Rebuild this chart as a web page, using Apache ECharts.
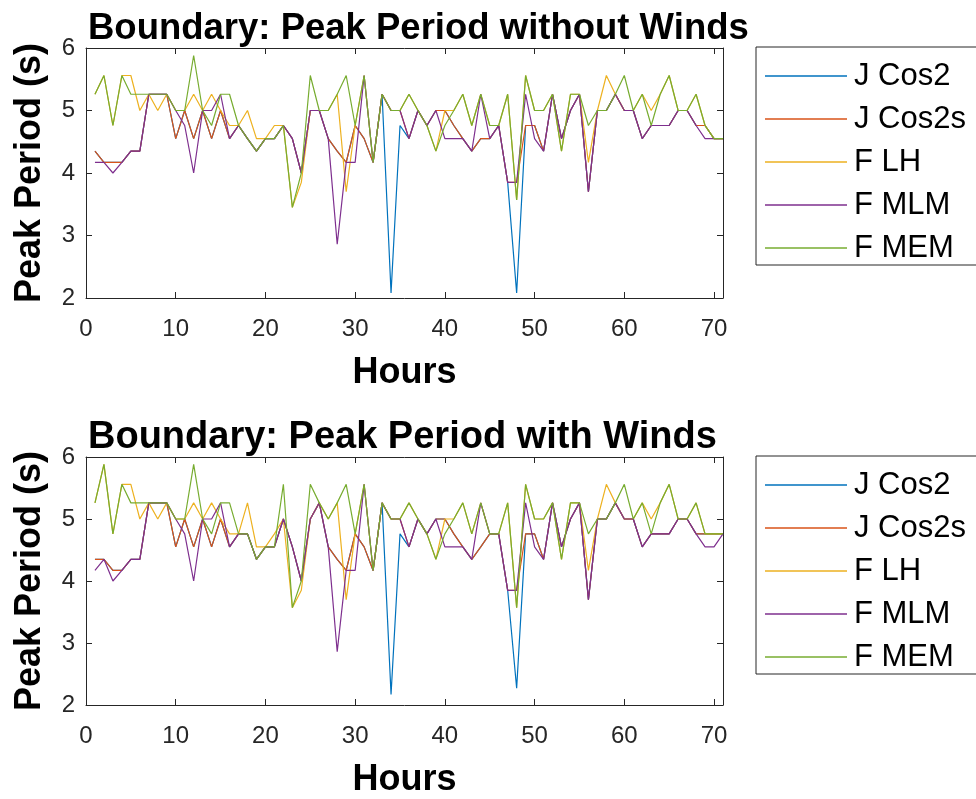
<!DOCTYPE html>
<html><head><meta charset="utf-8">
<script src="https://cdn.jsdelivr.net/npm/echarts@6/dist/echarts.min.js"></script>
<style>html,body{margin:0;padding:0;background:#fff}#c{width:976px;height:799px}</style>
</head><body><div id="c"></div><script>
const hours = [1,2,3,4,5,6,7,8,9,10,11,12,13,14,15,16,17,18,19,20,21,22,23,24,25,26,27,28,29,30,31,32,33,34,35,36,37,38,39,40,41,42,43,44,45,46,47,48,49,50,51,52,53,54,55,56,57,58,59,60,61,62,63,64,65,66,67,68,69,70,71];
const xTicks = [0,10,20,30,40,50,60,70];
const yTicks = [2,3,4,5,6];
const seriesNames = ['J Cos2','J Cos2s','F LH','F MLM','F MEM'];
const titles = ['Boundary: Peak Period without Winds','Boundary: Peak Period with Winds'];

// Without winds
const topCos2 = [4.35,4.17,4.17,4.17,4.35,4.35,5.26,5.26,5.26,4.55,
 5.0,4.55,5.0,4.55,5.0,4.55,4.76,4.55,4.35,4.55,
 4.55,4.76,4.55,4.0,5.0,5.0,4.55,4.35,4.17,4.76,
 4.55,4.17,5.26,2.08,4.76,4.55,5.0,4.76,5.0,5.0,
 4.76,4.55,4.35,4.55,4.55,4.76,3.85,2.08,4.76,4.76,
 4.35,5.26,4.55,5.0,5.26,3.70,5.0,5.0,5.26,5.0,
 5.0,4.55,4.76,4.76,4.76,5.0,5.0,4.76,4.76,4.55,
 4.55];
const topCos2s = [4.35,4.17,4.17,4.17,4.35,4.35,5.26,5.26,5.26,4.55,
 5.0,4.55,5.0,4.55,5.0,4.55,4.76,4.55,4.35,4.55,
 4.55,4.76,4.55,4.0,5.0,5.0,4.55,4.35,4.17,4.76,
 4.55,4.17,5.26,5.0,5.0,4.55,5.0,4.76,5.0,5.0,
 4.76,4.55,4.35,4.55,4.55,4.76,3.85,3.85,4.76,4.76,
 4.35,5.26,4.55,5.0,5.26,3.70,5.0,5.0,5.26,5.0,
 5.0,4.55,4.76,4.76,4.76,5.0,5.0,4.76,4.76,4.55,
 4.55];
const topLH = [5.26,5.56,4.76,5.56,5.56,5.0,5.26,5.0,5.26,5.0,
 5.0,5.26,5.0,5.26,5.0,4.76,4.76,5.0,4.55,4.55,
 4.76,4.76,3.45,3.85,5.0,5.0,5.0,5.26,3.70,4.76,
 5.56,4.17,5.26,5.0,5.0,5.26,5.0,4.76,4.35,5.0,
 5.0,5.26,4.76,5.26,4.76,4.76,5.26,3.57,5.56,5.0,
 5.0,5.26,4.35,5.26,5.26,4.17,5.0,5.56,5.26,5.0,
 5.0,5.26,5.0,5.26,5.56,5.0,5.0,5.26,4.76,4.55,
 4.55];
const topMLM = [4.17,4.17,4.0,4.17,4.35,4.35,5.26,5.26,5.26,5.0,
 4.76,4.0,5.0,5.0,5.26,4.55,4.76,4.55,4.35,4.55,
 4.55,4.76,4.55,4.0,5.0,5.0,4.55,2.86,4.17,4.17,
 5.56,4.17,5.26,5.0,5.0,4.55,5.0,4.76,5.0,4.55,
 4.55,4.55,4.35,5.26,4.55,4.76,3.85,3.85,5.26,4.55,
 4.35,5.26,4.55,5.0,5.26,3.70,5.0,5.0,5.26,5.0,
 5.0,4.55,4.76,4.76,4.76,5.0,5.0,4.76,4.55,4.55,
 4.55];
const topMEM = [5.26,5.56,4.76,5.56,5.26,5.26,5.26,5.26,5.26,5.0,
 5.0,5.88,5.0,4.76,5.26,5.26,4.76,4.55,4.35,4.55,
 4.55,4.76,3.45,4.0,5.56,5.0,5.0,5.26,5.56,4.76,
 5.56,4.17,5.26,5.0,5.0,5.26,5.0,4.76,4.35,4.76,
 5.0,5.26,4.76,5.26,4.76,4.76,5.26,3.57,5.56,5.0,
 5.0,5.26,4.35,5.26,5.26,4.76,5.0,5.0,5.26,5.56,
 5.0,5.26,4.76,5.26,5.56,5.0,5.0,5.26,4.76,4.55,
 4.55];

// With winds
const botCos2 = [4.35,4.35,4.17,4.17,4.35,4.35,5.26,5.26,5.26,4.55,
 5.0,4.55,5.0,4.55,5.0,4.55,4.76,4.76,4.35,4.55,
 4.55,5.0,4.55,4.0,5.0,5.26,4.55,4.35,4.17,4.76,
 4.55,4.17,5.26,2.17,4.76,4.55,5.0,4.76,5.0,5.0,
 4.76,4.55,4.35,4.55,4.76,4.76,3.85,2.27,4.76,4.76,
 4.35,5.26,4.55,5.0,5.26,3.70,5.0,5.0,5.26,5.0,
 5.0,4.55,4.76,4.76,4.76,5.0,5.0,4.76,4.76,4.76,
 4.76];
const botCos2s = [4.35,4.35,4.17,4.17,4.35,4.35,5.26,5.26,5.26,4.55,
 5.0,4.55,5.0,4.55,5.0,4.55,4.76,4.76,4.35,4.55,
 4.55,5.0,4.55,4.0,5.0,5.26,4.55,4.35,4.17,4.76,
 4.55,4.17,5.26,5.0,5.0,4.55,5.0,4.76,5.0,5.0,
 4.76,4.55,4.35,4.55,4.76,4.76,3.85,3.85,4.76,4.76,
 4.35,5.26,4.55,5.0,5.26,3.70,5.0,5.0,5.26,5.0,
 5.0,4.55,4.76,4.76,4.76,5.0,5.0,4.76,4.76,4.76,
 4.76];
const botLH = [5.26,5.88,4.76,5.56,5.56,5.0,5.26,5.0,5.26,5.0,
 5.0,5.26,5.0,5.26,5.0,4.76,4.76,5.26,4.55,4.55,
 4.76,5.0,3.57,3.85,5.0,5.26,5.0,5.26,3.70,4.76,
 5.56,4.17,5.26,5.0,5.0,5.26,5.0,4.76,4.35,5.0,
 5.0,5.26,4.76,5.26,4.76,4.76,5.26,3.57,5.56,5.0,
 5.0,5.26,4.35,5.26,5.26,4.17,5.0,5.56,5.26,5.0,
 5.0,5.26,5.0,5.26,5.56,5.0,5.0,5.26,4.76,4.76,
 4.76];
const botMLM = [4.17,4.35,4.0,4.17,4.35,4.35,5.26,5.26,5.26,5.0,
 4.76,4.0,5.0,5.0,5.26,4.55,4.76,4.76,4.35,4.55,
 4.55,5.0,4.55,4.0,5.0,5.26,4.55,2.86,4.17,4.17,
 5.56,4.17,5.26,5.0,5.0,4.55,5.0,4.76,5.0,4.55,
 4.55,4.55,4.35,5.26,4.76,4.76,3.85,3.85,5.26,4.55,
 4.35,5.26,4.55,5.0,5.26,3.70,5.0,5.0,5.26,5.0,
 5.0,4.55,4.76,4.76,4.76,5.0,5.0,4.76,4.55,4.55,
 4.76];
const botMEM = [5.26,5.88,4.76,5.56,5.26,5.26,5.26,5.26,5.26,5.0,
 5.0,5.88,5.0,4.76,5.26,5.26,4.76,4.76,4.35,4.55,
 4.55,5.56,3.57,4.0,5.56,5.26,5.0,5.26,5.56,4.76,
 5.56,4.17,5.26,5.0,5.0,5.26,5.0,4.76,4.35,4.76,
 5.0,5.26,4.76,5.26,4.76,4.76,5.26,3.57,5.56,5.0,
 5.0,5.26,4.35,5.26,5.26,4.76,5.0,5.0,5.26,5.56,
 5.0,5.26,4.76,5.26,5.56,5.0,5.0,5.26,4.76,4.76,
 4.76];

const colors = ['#0072BD','#D95319','#EDB120','#7E2F8E','#77AC30'];
const FONT = '"Liberation Sans", Arial, Helvetica, sans-serif';
const AX = '#262626';

const panels = [
  [topCos2, topCos2s, topLH, topMLM, topMEM],
  [botCos2, botCos2s, botLH, botMLM, botMEM]
];
const gridTops = [48, 457];
const gridHeights = [250, 251];
const titleSizes = [36.5, 38];
const titleTops = [11, 419];

function pairs(vals){ return hours.map((h,i)=>[h, vals[i]]); }

const option = {
  animation: false,
  backgroundColor: '#fff',
  color: colors,
  title: gridTops.map((t,g)=>({
    text: titles[g], left: 88, top: titleTops[g], padding: 0,
    textStyle: {fontSize: titleSizes[g], fontWeight: 'bold', color: '#000', fontFamily: FONT, lineHeight: titleSizes[g]}
  })),
  grid: gridTops.map((t,g)=>({left: 86, top: t, width: 637, height: gridHeights[g], show: false})),
  legend: gridTops.map((t,g)=>({
    orient: 'vertical', left: 756, top: t - 1, padding: [13, 30, 1, 9],
    icon: 'rect', itemWidth: 82, itemHeight: 1.3, itemGap: 11,
    borderColor: AX, borderWidth: 1, backgroundColor: '#fff',
    selectedMode: false,
    textStyle: {fontSize: 31, lineHeight: 32, color: '#000', fontFamily: FONT, padding: [0,0,0,2]},
    data: seriesNames
  })),
  xAxis: [],
  yAxis: [],
  series: []
};

for (let g = 0; g < 2; g++) {
  option.xAxis.push({
    type: 'value', gridIndex: g, min: 0, max: 71, position: 'bottom',
    axisLine: {show: true, onZero: false, lineStyle: {color: AX, width: 1}},
    axisTick: {show: true, inside: true, length: 6, customValues: xTicks, lineStyle: {color: AX}},
    axisLabel: {customValues: xTicks, fontSize: 24, color: AX, margin: 19, fontFamily: FONT},
    splitLine: {show: false},
    name: 'Hours', nameLocation: 'middle', nameGap: 57,
    nameTextStyle: {fontSize: 36, fontWeight: 'bold', color: '#000', fontFamily: FONT, lineHeight: 36}
  });
  option.xAxis.push({
    type: 'value', gridIndex: g, min: 0, max: 71, position: 'top',
    axisLine: {show: true, onZero: false, lineStyle: {color: AX, width: 1}},
    axisTick: {show: true, inside: true, length: 6, customValues: xTicks, lineStyle: {color: AX}},
    axisLabel: {show: false}, splitLine: {show: false}
  });
  option.yAxis.push({
    type: 'value', gridIndex: g, min: 2, max: 6, interval: 1, position: 'left',
    axisLine: {show: true, onZero: false, lineStyle: {color: AX, width: 1}},
    axisTick: {show: true, inside: true, length: 6, customValues: yTicks, lineStyle: {color: AX}},
    axisLabel: {customValues: yTicks, fontSize: 24, color: AX, margin: 11, fontFamily: FONT},
    splitLine: {show: false},
    name: 'Peak Period (s)', nameLocation: 'middle', nameGap: 38, nameRotate: 90,
    nameTextStyle: {fontSize: 36, fontWeight: 'bold', color: '#000', fontFamily: FONT, lineHeight: 36}
  });
  option.yAxis.push({
    type: 'value', gridIndex: g, min: 2, max: 6, interval: 1, position: 'right',
    axisLine: {show: true, onZero: false, lineStyle: {color: AX, width: 1}},
    axisTick: {show: true, inside: true, length: 6, customValues: yTicks, lineStyle: {color: AX}},
    axisLabel: {show: false}, splitLine: {show: false}
  });
  panels[g].forEach((vals, k) => {
    option.series.push({
      type: 'line', name: seriesNames[k], xAxisIndex: g * 2, yAxisIndex: g * 2,
      data: pairs(vals), symbol: 'none', showSymbol: false, clip: true,
      lineStyle: {width: 1.2, color: colors[k]}, itemStyle: {color: colors[k]},
      emphasis: {disabled: true}
    });
  });
}

const chart = echarts.init(document.getElementById('c'), null, {renderer: 'canvas'});
chart.setOption(option);
</script></body></html>
